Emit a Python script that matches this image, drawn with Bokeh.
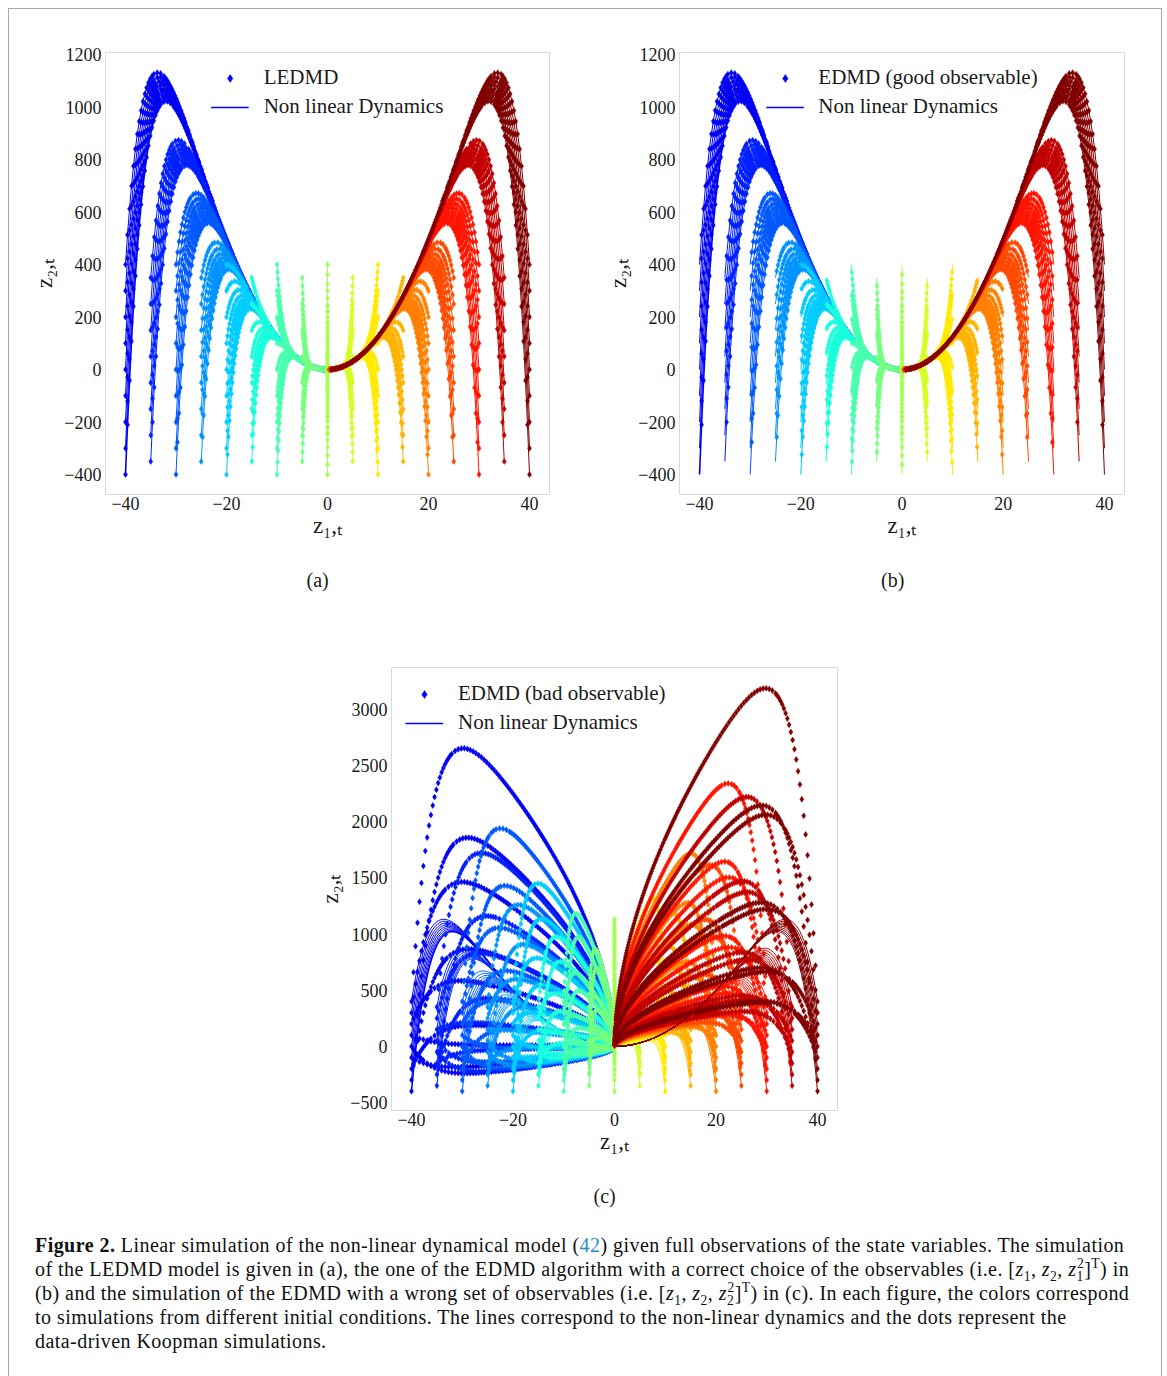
import numpy as np
from bokeh.plotting import figure
from bokeh.models import Range1d, FixedTicker, Legend, LegendItem, Div, Title
from bokeh.layouts import column, row
from bokeh.embed import file_html
from bokeh.resources import INLINE

# ---------------- data ----------------
z1_initial = [-40, -35, -30, -25, -20, -15, -10, -5, 0, 5, 10, 15, 20, 25, 30, 35, 40]
z2_initial_tens = [-400, -300, -200, -100, 0, 100, 200, 300, 400]   # z1_0 multiple of 10
z2_initial_fives = [-350, -250, -150, -50, 50, 150, 250, 350]       # z1_0 odd multiple of 5

# non-linear model (42): z1' = lam z1 ; z2' = mu z2 + c (lam^2 - mu) z1^2
model_lambda = 0.99
model_rate_ratio = 10.0        # mu = lam ** ratio
model_manifold = 1.25          # slow manifold z2 = c z1^2
n_steps = 450

# EDMD with the wrong observables (panel c): slow / fast modes
bad_slow_exponent = 0.55
bad_fast_exponent = 10.0
bad_amp_const = [0.0, 9.875, 0.0594]
bad_amp_lin = [100.0, 1.9375, 0.283]
bad_amp_quad = [1300.0, -3.4375, 1.0547]
n_steps_bad = 1000

x_ticks = [-40, -20, 0, 20, 40]
y_ticks_ab = [-400, -200, 0, 200, 400, 600, 800, 1000, 1200]
y_ticks_c = [-500, 0, 500, 1000, 1500, 2000, 2500, 3000]

legend_labels = ["LEDMD", "EDMD (good observable)", "EDMD (bad observable)"]
line_label = "Non linear Dynamics"
panel_tags = ["(a)", "(b)", "(c)"]
x_label = "z\u2081,\u209c"
y_label = "z\u2082,\u209c"
colormap_start = 0.1           # jet colours from 0.1 (blue) to 1.0 (dark red)

FONT = "Liberation Serif"
TXT = "#1a1a1a"


def minus(v):
    return f"{v:g}".replace("-", "\u2212")


def jet(v):
    r = np.interp(v, [0, 0.35, 0.66, 0.89, 1], [0, 0, 1, 1, 0.5])
    g = np.interp(v, [0, 0.125, 0.375, 0.64, 0.91, 1], [0, 0, 1, 1, 0, 0])
    b = np.interp(v, [0, 0.11, 0.34, 0.65, 1], [0.5, 1, 1, 0, 0])
    return "#%02x%02x%02x" % (int(round(r * 255)), int(round(g * 255)), int(round(b * 255)))


n_col = len(z1_initial)
colors = [jet(colormap_start + (1 - colormap_start) * i / (n_col - 1)) for i in range(n_col)]


def z2_starts(Z):
    return z2_initial_tens if Z % 10 == 0 else z2_initial_fives


mu = model_lambda ** model_rate_ratio
forcing = model_manifold * (model_lambda ** 2 - mu)


def simulate_true(Z, z0, n):
    z1 = np.empty(n + 1)
    z2 = np.empty(n + 1)
    z1[0], z2[0] = Z, z0
    for t in range(n):
        z1[t + 1] = model_lambda * z1[t]
        z2[t + 1] = mu * z2[t] + forcing * z1[t] ** 2
    return z1, z2


def poly(c, Z):
    return c[0] + c[1] * Z + c[2] * Z * Z


def simulate_bad(Z, z0, n):
    nu = model_lambda ** bad_slow_exponent
    rho = model_lambda ** bad_fast_exponent
    r = z0 / 400.0
    P = poly(bad_amp_const, Z) + poly(bad_amp_lin, Z) * r + poly(bad_amp_quad, Z) * r * r
    z1 = np.empty(n + 1)
    z2 = np.empty(n + 1)
    slow, fast = P, z0 - P
    for t in range(n + 1):
        z1[t] = Z * model_lambda ** t
        z2[t] = slow + fast
        slow *= nu
        fast *= rho
    return z1, z2


def thin(xs, ys, kx, ky, d):
    ox, oy = [], []
    lx = ly = None
    for x, y in zip(xs, ys):
        if lx is None or ((x - lx) * kx) ** 2 + ((y - ly) * ky) ** 2 >= d * d:
            ox.append(x)
            oy.append(y)
            lx, ly = x, y
    return ox, oy


def dedupe(xs, ys, kx, ky, g):
    seen = set()
    ox, oy = [], []
    for x, y in zip(xs, ys):
        key = (int(round(x * kx / g)), int(round(y * ky / g)))
        if key not in seen:
            seen.add(key)
            ox.append(x)
            oy.append(y)
    return ox, oy


def build_panel(idx, width, height, mb, xr, yr, yticks, leg_loc, leg_margin, leg_padding):
    ml, mr, mt, mbot = mb
    p = figure(width=width, height=height, x_range=Range1d(*xr), y_range=Range1d(*yr),
               min_border_left=ml, min_border_right=mr, min_border_top=mt, min_border_bottom=mbot,
               output_backend="svg", toolbar_location=None, title=None)
    p.background_fill_color = "white"
    p.border_fill_color = "white"
    p.outline_line_color = "#d9d9d9"
    p.grid.visible = False
    p.xaxis.ticker = FixedTicker(ticks=x_ticks)
    p.yaxis.ticker = FixedTicker(ticks=yticks)
    p.xaxis.major_label_overrides = {float(t): minus(t) for t in x_ticks}
    p.yaxis.major_label_overrides = {float(t): minus(t) for t in yticks}
    p.xaxis.axis_label = x_label
    p.yaxis.axis_label = y_label
    for ax in (p.xaxis, p.yaxis):
        ax.axis_line_color = None
        ax.major_tick_line_color = None
        ax.minor_tick_line_color = None
        ax.major_tick_out = 0
        ax.major_tick_in = 0
        ax.minor_tick_out = 0
        ax.minor_tick_in = 0
        ax.major_label_text_font = FONT
        ax.major_label_text_font_size = "18px"
        ax.major_label_text_color = TXT
        ax.axis_label_text_font = FONT
        ax.axis_label_text_font_size = "23px"
        ax.axis_label_text_font_style = "normal"
        ax.axis_label_text_color = TXT
    p.yaxis.major_label_standoff = 4
    p.xaxis.major_label_standoff = 2
    p.xaxis.axis_label_standoff = 0
    p.yaxis.axis_label_standoff = 4

    fw = width - ml - mr
    fh = height - mt - mbot
    kx = fw / (xr[1] - xr[0])
    ky = fh / (yr[1] - yr[0])

    first_dots = first_line = None
    for i, Z in enumerate(z1_initial):
        col = colors[i]
        lxs, lys, dxs, dys = [], [], [], []
        for z0 in z2_starts(Z):
            t1, t2 = simulate_true(Z, z0, n_steps)
            lxs.append(t1)
            lys.append(t2)
            if idx == 2:
                b1, b2 = simulate_bad(Z, z0, n_steps_bad)
            elif idx == 1:
                b1, b2 = t1[1:], t2[1:]
            else:
                b1, b2 = t1, t2
            a, b = thin(b1, b2, kx, ky, 2.5)
            dxs += a
            dys += b
        dxs, dys = dedupe(dxs, dys, kx, ky, 1.5)
        rd = p.scatter(dxs, dys, marker="diamond", size=6, fill_color=col, line_color=col, line_width=0.5)
        if i == 0:
            first_dots = rd
            first_line = p.line(lxs[0], lys[0], line_color=col, line_width=1.6)
            p.multi_line(lxs[1:], lys[1:], line_color=col, line_width=1)
        else:
            p.multi_line(lxs, lys, line_color=col, line_width=1)

    legend = Legend(items=[LegendItem(label=legend_labels[idx], renderers=[first_dots]),
                           LegendItem(label=line_label, renderers=[first_line])],
                    location=leg_loc, margin=leg_margin, padding=leg_padding,
                    glyph_width=38, glyph_height=20, label_height=20, label_standoff=15,
                    spacing=4, border_line_color=None, background_fill_alpha=0,
                    label_text_font=FONT, label_text_font_size="21px", label_text_color=TXT)
    p.add_layout(legend)
    p.add_layout(Title(text=panel_tags[idx], align="left", offset=fw / 2 - 21, standoff=53,
                       text_font=FONT, text_font_size="20px", text_font_style="normal",
                       text_color=TXT), "below")
    return p


yr_ab = (-476.0, 1208.0)
xr_ab = (-43.96, 43.96)
pa = build_panel(0, 583, 610, (96, 43, 43, 125), xr_ab, yr_ab, y_ticks_ab, "top_center", 13, 6)
pb = build_panel(1, 569, 610, (87, 37, 43, 125), xr_ab, yr_ab, y_ticks_ab, "top_center", 13, 6)
pc = build_panel(2, 1152, 616, (382, 324, 48, 125), (-43.94, 43.94), (-571.0, 3374.0), y_ticks_c,
                 "top_left", 14, 3)


def sub(s):
    return f'<sub style="font-size:68%;line-height:0">{s}</sub>'


def stack(sp, sb):
    return sub(sb) + f'<sup style="font-size:68%;line-height:0;margin-left:-0.5em">{sp}</sup>'


iz = '<i>z</i>'
sup_t = '<sup style="font-size:68%;line-height:0">T</sup>'
lines = [
    '<b>Figure 2.</b> Linear simulation of the non-linear dynamical model (<span style="color:#1f8dc6">42</span>) '
    'given full observations of the state variables. The simulation',
    'of the LEDMD model is given in (a), the one of the EDMD algorithm with a correct choice of the observables '
    f'(i.e. [{iz}{sub("1")}, {iz}{sub("2")}, {iz}{stack("2", "1")}]{sup_t}) in',
    '(b) and the simulation of the EDMD with a wrong set of observables '
    f'(i.e. [{iz}{sub("1")}, {iz}{sub("2")}, {iz}{stack("2", "2")}]{sup_t}) in (c). In each figure, the colors correspond',
    'to simulations from different initial conditions. The lines correspond to the non-linear dynamics and the dots represent the',
    'data-driven Koopman simulations.',
]
caption_html = ('<div style="font-family:\'Liberation Serif\',serif;font-size:20px;letter-spacing:0.45px;'
                'line-height:24px;color:#111;margin-top:-2px;padding:0 0 0 26px;white-space:nowrap">'
                + '<br>'.join(lines) + '</div>')
cap = Div(text=caption_html, width=1152, height=142, margin=(0, 0, 0, 0))

layout = column(row(pa, pb), pc, cap, margin=(8, 0, 0, 8),
                styles={"border": "1px solid #a8a8a8", "background-color": "white"})

open("out.html", "w").write(file_html(layout, INLINE))
